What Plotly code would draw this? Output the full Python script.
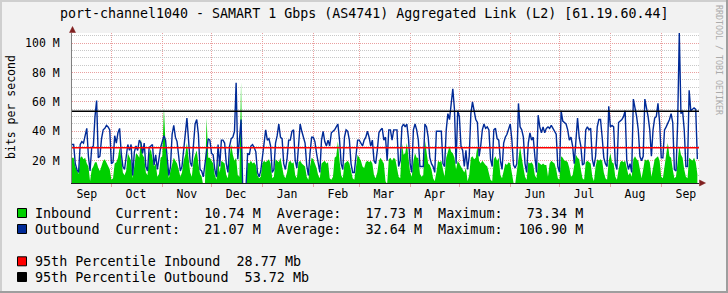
import plotly.graph_objects as go
import pandas as pd

# ---------------- data (values in Mbit/s, one per day) ----------------
START = "2012-09-07"
END = "2013-09-24"

OUTBOUND = [
    31, 31, 18, 14, 12, 31, 33, 32, 37, 42,
    23, 13, 29, 30, 50, 61, 22, 23, 35, 41,
    42, 44, 43, 41, 18, 19, 37, 32, 39, 42,
    25, 16, 14, 21, 31, 27, 31, 10, 26, 30,
    27, 34, 32, 25, 32, 16, 13, 29, 30, 31,
    17, 24, 14, 22, 29, 33, 37, 34, 20, 10,
    16, 38, 44, 36, 33, 24, 13, 16, 27, 41,
    49, 34, 19, 16, 29, 45, 48, 38, 14, 13,
    9, 18, 27, 35, 34, 25, 24, 14, 9, 31,
    16, 34, 34, 32, 18, 12, 30, 35, 36, 40,
    73, 21, 34, 48, 2, 2, 2, 25, 24, 30,
    31, 29, 26, 12, 9, 13, 23, 32, 41, 34,
    35, 30, 12, 14, 32, 37, 45, 36, 35, 18,
    14, 21, 34, 34, 40, 41, 20, 15, 34, 45,
    40, 35, 32, 17, 10, 25, 36, 36, 33, 25,
    17, 12, 34, 40, 33, 30, 34, 30, 39, 40,
    41, 43, 45, 34, 18, 14, 36, 41, 40, 34,
    18, 12, 12, 23, 34, 34, 32, 30, 34, 36,
    40, 36, 30, 34, 20, 18, 27, 39, 41, 42,
    34, 36, 20, 41, 41, 34, 41, 41, 41, 16,
    20, 43, 45, 43, 45, 35, 18, 12, 41, 45,
    41, 34, 16, 16, 16, 45, 43, 36, 22, 18,
    16, 12, 40, 40, 40, 40, 18, 16, 41, 52,
    48, 60, 69, 55, 18, 54, 50, 30, 27, 16,
    27, 14, 23, 52, 60, 54, 48, 46, 23, 30,
    41, 45, 42, 43, 41, 21, 16, 41, 42, 35,
    34, 20, 14, 32, 36, 38, 41, 45, 34, 17,
    15, 18, 59, 43, 41, 36, 18, 12, 32, 39,
    34, 36, 23, 12, 51, 43, 39, 43, 39, 42,
    43, 42, 44, 42, 40, 38, 16, 12, 54, 47,
    46, 45, 41, 34, 36, 30, 18, 32, 49, 36,
    30, 17, 18, 41, 43, 41, 42, 21, 16, 23,
    43, 48, 48, 36, 22, 18, 16, 57, 43, 44,
    43, 18, 14, 46, 47, 48, 50, 54, 20, 14,
    18, 12, 62, 57, 50, 41, 23, 20, 23, 62,
    57, 50, 41, 23, 41, 49, 50, 59, 46, 22,
    22, 41, 43, 45, 48, 52, 46, 14, 13, 46,
    106.9, 52, 54, 41, 16, 16, 68, 54, 55, 56,
    55, 21.07,
]

INBOUND = [
    22, 22, 16, 13, 11, 22, 23, 21, 22, 18,
    16, 6, 14, 16, 19, 19, 15, 13, 17, 20,
    21, 19, 16, 14, 7, 8, 18, 19, 22, 29,
    22, 12, 10, 13, 25, 22, 20, 8, 18, 25,
    24, 22, 35, 24, 22, 12, 10, 25, 28, 22,
    16, 18, 9, 11, 22, 23, 56, 30, 20, 8,
    13, 18, 22, 20, 18, 14, 9, 12, 20, 24,
    32, 22, 12, 9, 20, 24, 27, 18, 11, 9,
    3, 4, 49, 22, 22, 20, 18, 10, 7, 20,
    12, 20, 19, 18, 10, 8, 22, 31, 24, 20,
    22, 10, 9, 73.34, 2, 2, 2, 19, 18, 20,
    18, 19, 17, 10, 8, 9, 18, 20, 19, 20,
    21, 18, 8, 9, 21, 20, 19, 22, 16, 10,
    8, 12, 19, 20, 18, 19, 10, 8, 19, 20,
    18, 17, 16, 9, 7, 16, 22, 21, 18, 15,
    10, 8, 18, 19, 20, 18, 19, 8, 7, 9,
    22, 23, 33, 20, 10, 8, 18, 19, 20, 18,
    12, 8, 7, 15, 24, 22, 20, 16, 15, 19,
    20, 19, 20, 18, 10, 8, 12, 20, 22, 20,
    18, 6, 4, 21, 22, 20, 22, 21, 16, 9,
    8, 32, 24, 25, 32, 22, 12, 9, 20, 25,
    22, 22, 11, 9, 10, 34, 25, 18, 17, 14,
    8, 6, 12, 20, 19, 20, 14, 9, 22, 27,
    30, 26, 25, 22, 14, 20, 18, 16, 14, 12,
    15, 6, 10, 22, 23, 21, 22, 30, 20, 18,
    20, 18, 17, 16, 12, 7, 6, 21, 23, 20,
    22, 10, 8, 14, 18, 17, 19, 18, 12, 5,
    4, 14, 22, 30, 22, 16, 9, 7, 19, 18,
    19, 17, 10, 8, 19, 18, 17, 18, 17, 17,
    9, 18, 20, 19, 18, 14, 8, 7, 23, 22,
    20, 20, 19, 15, 9, 10, 16, 24, 22, 21,
    14, 8, 7, 19, 20, 19, 18, 9, 6, 16,
    21, 20, 21, 20, 12, 8, 7, 20, 25, 19,
    18, 9, 7, 14, 19, 20, 19, 20, 14, 10,
    12, 9, 21, 23, 21, 20, 14, 8, 14, 21,
    20, 21, 19, 9, 15, 21, 22, 23, 20, 9,
    8, 15, 24, 32, 23, 22, 14, 8, 9, 22,
    30, 24, 22, 14, 9, 8, 22, 21, 20, 22,
    19, 10.74,
]

P95_IN = 28.77
P95_OUT = 53.72

IN_STATS = {"cur": 10.74, "avg": 17.73, "max": 73.34}
OUT_STATS = {"cur": 21.07, "avg": 32.64, "max": 106.90}

MONTH_LABELS = ["Sep", "Oct", "Nov", "Dec", "Jan", "Feb", "Mar",
                "Apr", "May", "Jun", "Jul", "Aug", "Sep"]
LABEL_DATES = ["2012-09-16", "2012-10-16", "2012-11-16", "2012-12-16",
               "2013-01-16", "2013-02-16", "2013-03-16", "2013-04-16",
               "2013-05-16", "2013-06-16", "2013-07-16", "2013-08-16",
               "2013-09-16"]
MONTH_STARTS = ["2012-10-01", "2012-11-01", "2012-12-01", "2013-01-01",
                "2013-02-01", "2013-03-01", "2013-04-01", "2013-05-01",
                "2013-06-01", "2013-07-01", "2013-08-01", "2013-09-01"]
Y_TICKS = [20, 40, 60, 80, 100]
Y_TICKTEXT = ["20 M", "40 M", "60 M", "80 M", "100 M"]
Y_RANGE = [4.8, 106.95]

TITLE = "port-channel1040 - SAMART 1 Gbps (AS4741) Aggregated Link (L2) [61.19.60.44]"
Y_TITLE = "bits per second"
WATERMARK = "RRDTOOL / TOBI OETIKER"

# ---------------- layout helpers ----------------
W, H = 728, 293
L, R, T, B = 72, 29, 33, 110
PW, PH = W - L - R, H - T - B


def fx(p):
    return (p - L) / PW


def fy(p):
    return (H - B - p) / PH


MONO = "DejaVu Sans Mono"
GREEN = "#00CF00"
BLUE = "#002A97"
MGRID = "#E9A0A0"
GRID = "#C8C8C8"
ARROW = "#801F1F"

dates = pd.date_range(START, periods=len(OUTBOUND), freq="D")

fig = go.Figure()
fig.add_trace(go.Scatter(x=dates, y=INBOUND, mode="lines", fill="tozeroy",
                         line=dict(color=GREEN, width=0), fillcolor=GREEN,
                         hoverinfo="skip"))
fig.add_trace(go.Scatter(x=dates, y=OUTBOUND, mode="lines",
                         line=dict(color=BLUE, width=1.4), hoverinfo="skip"))

shapes = []
# 95th percentile rules
for val, col in ((P95_IN, "#FF0000"), (P95_OUT, "#000000")):
    shapes.append(dict(type="line", xref="paper", yref="y", x0=0, x1=1,
                       y0=val, y1=val, line=dict(color=col, width=1.5),
                       layer="above"))
# axis arrows
shapes.append(dict(type="path", xref="paper", yref="paper",
                   path=f"M {fx(69.5)} {fy(32.5)} L {fx(75.5)} {fy(32.5)} L {fx(72.5)} {fy(26.5)} Z",
                   fillcolor=ARROW, line=dict(color=ARROW, width=0.5), layer="above"))
shapes.append(dict(type="path", xref="paper", yref="paper",
                   path=f"M {fx(699.5)} {fy(180)} L {fx(699.5)} {fy(186)} L {fx(705.5)} {fy(183)} Z",
                   fillcolor=ARROW, line=dict(color=ARROW, width=0.5), layer="above"))
# 3D frame
shapes.append(dict(type="line", xref="paper", yref="paper", x0=fx(0), x1=fx(W),
                   y0=fy(1), y1=fy(1), line=dict(color="#CFCFCF", width=2)))
shapes.append(dict(type="line", xref="paper", yref="paper", x0=fx(1), x1=fx(1),
                   y0=fy(0), y1=fy(H), line=dict(color="#CFCFCF", width=2)))
shapes.append(dict(type="line", xref="paper", yref="paper", x0=fx(0), x1=fx(W),
                   y0=fy(H - 1), y1=fy(H - 1), line=dict(color="#9E9E9E", width=2)))
shapes.append(dict(type="line", xref="paper", yref="paper", x0=fx(W - 1), x1=fx(W - 1),
                   y0=fy(0), y1=fy(H), line=dict(color="#9E9E9E", width=2)))

annotations = []


def nb(s):
    return s.replace(" ", "\u00a0")


annotations.append(dict(text=nb(TITLE), xref="paper", yref="paper", x=fx(363.5), y=fy(14),
                        xanchor="center", yanchor="middle", showarrow=False,
                        font=dict(family=MONO, size=13.3, color="black")))
annotations.append(dict(text=nb(Y_TITLE), xref="paper", yref="paper", x=fx(11), y=fy(107),
                        xanchor="center", yanchor="middle", showarrow=False, textangle=-90,
                        font=dict(family=MONO, size=11.5, color="black")))
annotations.append(dict(text=nb(WATERMARK), xref="paper", yref="paper", x=fx(719), y=fy(60),
                        xanchor="center", yanchor="middle", showarrow=False, textangle=90,
                        font=dict(family=MONO, size=8.3, color="#ABABAB")))

rows = [
    (GREEN, f"{'Inbound':<10}Current:{IN_STATS['cur']:>8.2f} M  Average:{IN_STATS['avg']:>8.2f} M  Maximum:{IN_STATS['max']:>8.2f} M", 213),
    (BLUE, f"{'Outbound':<10}Current:{OUT_STATS['cur']:>8.2f} M  Average:{OUT_STATS['avg']:>8.2f} M  Maximum:{OUT_STATS['max']:>8.2f} M", 229),
    ("#FF0000", f"95th Percentile Inbound  {P95_IN:.2f} Mb", 261.3),
    ("#000000", f"95th Percentile Outbound  {P95_OUT:.2f} Mb", 277),
]
for col, txt, yc in rows:
    shapes.append(dict(type="rect", xref="paper", yref="paper",
                       x0=fx(17.5), x1=fx(26.5), y0=fy(yc - 4.5), y1=fy(yc + 4.5),
                       fillcolor=col, line=dict(color="black", width=1)))
    annotations.append(dict(text=nb(txt), xref="paper", yref="paper", x=fx(33), y=fy(yc),
                            xanchor="left", yanchor="middle", showarrow=False,
                            font=dict(family=MONO, size=13.4, color="black")))

fig.update_layout(
    width=W, height=H,
    margin=dict(l=L, r=R, t=T, b=B, pad=0),
    paper_bgcolor="#F2F2F2", plot_bgcolor="#FFFFFF",
    showlegend=False,
    font=dict(family=MONO, size=11.5, color="black"),
    shapes=shapes, annotations=annotations,
    xaxis=dict(type="date", range=[START, END], tickmode="array",
               tickvals=LABEL_DATES, ticktext=MONTH_LABELS, ticks="",
               showgrid=False, zeroline=False, showline=True,
               linecolor="#1F1F1F", linewidth=1, ticklabelstandoff=0,
               tickfont=dict(family=MONO, size=11.5, color="black"),
               minor=dict(tickmode="array", tickvals=MONTH_STARTS, showgrid=True,
                          gridcolor=MGRID, griddash="1px,1px", gridwidth=1,
                          ticks="outside", ticklen=3, tickcolor=MGRID)),
    yaxis=dict(range=Y_RANGE, tickmode="array", tickvals=Y_TICKS, ticktext=Y_TICKTEXT,
               showgrid=True, gridcolor=MGRID, griddash="1px,1px", gridwidth=1,
               ticks="", zeroline=False, showline=True, linecolor="#808080",
               linewidth=1, ticklabelstandoff=9,
               tickfont=dict(family=MONO, size=11.5, color="black"),
               minor=dict(tickmode="linear", tick0=0, dtick=5, showgrid=True,
                          gridcolor=GRID, griddash="1px,1px", gridwidth=1)),
)

fig.write_html("out.html")
